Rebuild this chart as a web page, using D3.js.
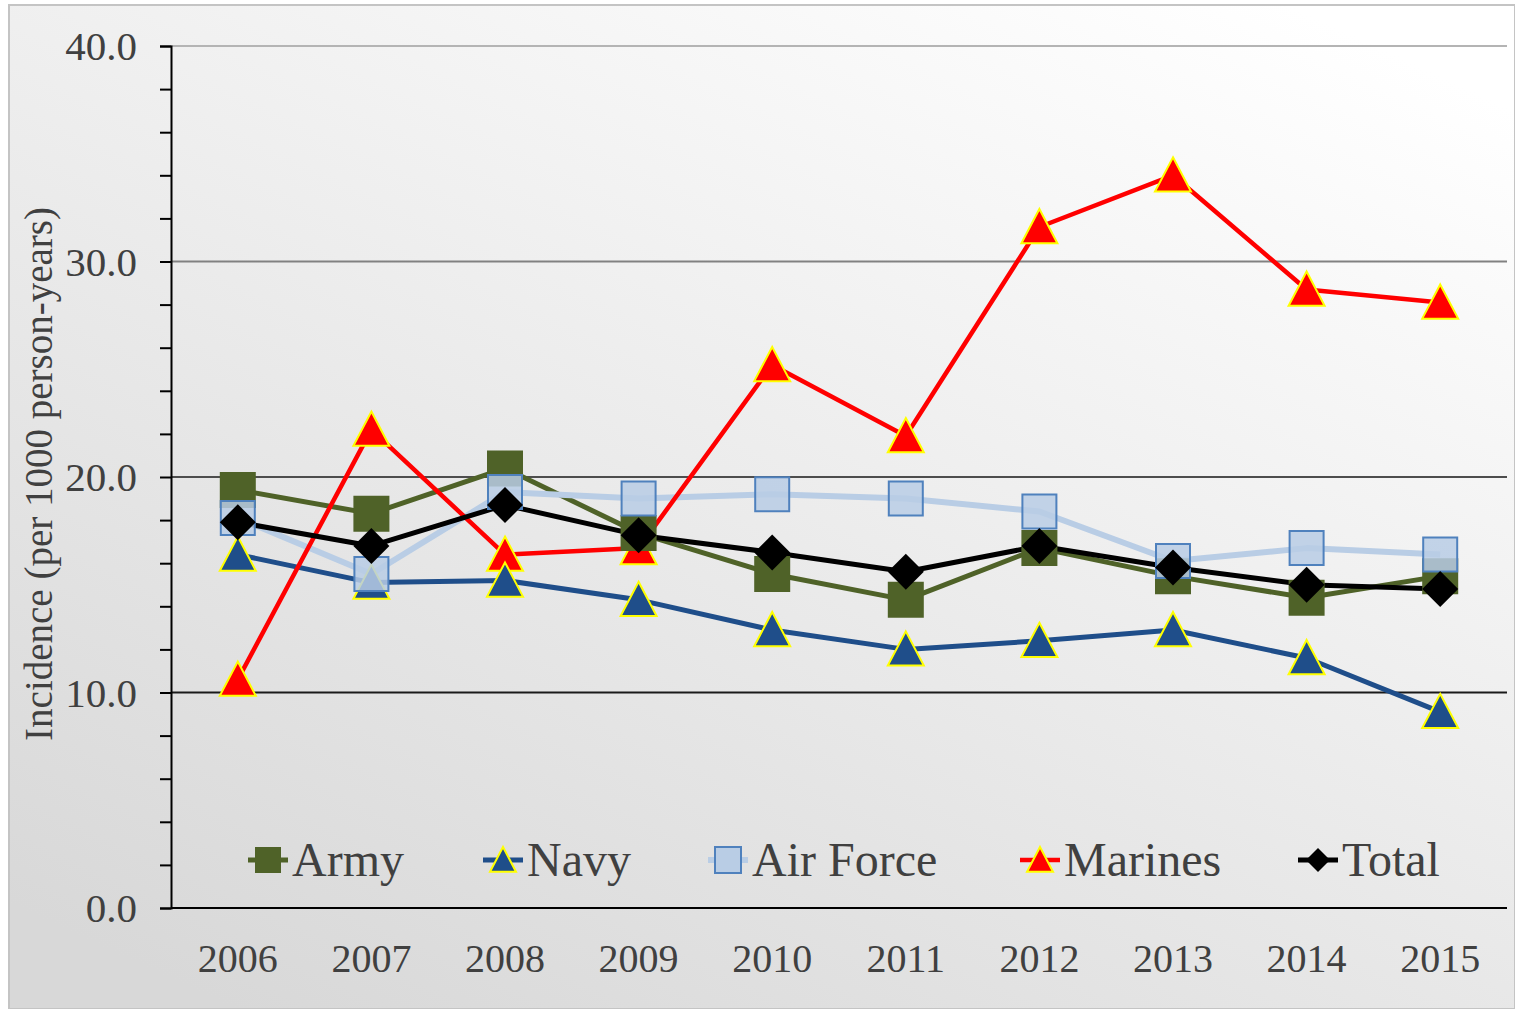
<!DOCTYPE html>
<html lang="en">
<head>
<meta charset="utf-8">
<title>Incidence by service</title>
<script src="https://cdnjs.cloudflare.com/ajax/libs/d3/7.8.5/d3.min.js"></script>
<style>
  body { margin: 0; background: #fff; }
  text { font-family: "Liberation Serif", "Times New Roman", serif; fill: #404040; }
</style>
</head>
<body>
<script>
// data
let years = ["2006", "2007", "2008", "2009", "2010", "2011", "2012", "2013", "2014", "2015"];
let army     = [19.4, 18.3, 20.4, 17.4, 15.5, 14.3, 16.7, 15.4, 14.4, 15.4];
let navy     = [16.4, 15.1, 15.2, 14.3, 12.9, 12.0, 12.4, 12.9, 11.6, 9.1];
let airForce = [18.1, 15.5, 19.3, 19.0, 19.2, 19.0, 18.4, 16.1, 16.7, 16.4];
let marines  = [10.6, 22.2, 16.4, 16.7, 25.2, 21.9, 31.6, 34.0, 28.7, 28.1];
let total    = [17.9, 16.8, 18.7, 17.3, 16.5, 15.6, 16.8, 15.8, 15.0, 14.8];
let yTicks = [0, 10, 20, 30, 40];

let w = 1515;
let h = 1009;
let plotLeft = 171, plotRight = 1507, plotTop = 46, plotBottom = 908;

let series = [
  {name: "Army", values: army, line: "#4f6228", width: 5, shape: "square", fill: "#4f6228", stroke: "none", size: 36, opacity: 1},
  {name: "Navy", values: navy, line: "#1f4e8a", width: 5, shape: "triangle", fill: "#1f4e8a", stroke: "#ffff00", size: 36, opacity: 1},
  {name: "Air Force", values: airForce, line: "#b9cde5", width: 6, shape: "square", fill: "#b9cde5", stroke: "#4f81bd", size: 34, opacity: 0.85},
  {name: "Marines", values: marines, line: "#ff0000", width: 4.5, shape: "triangle", fill: "#ff0000", stroke: "#ffff00", size: 36, opacity: 1},
  {name: "Total", values: total, line: "#000000", width: 5, shape: "diamond", fill: "#000000", stroke: "none", size: 36, opacity: 1}
];

let svg = d3.select("body").append("svg")
  .attr("width", w)
  .attr("height", h);

let defs = svg.append("defs");
let grad = defs.append("linearGradient")
  .attr("id", "bg")
  .attr("x1", "0.85").attr("y1", "0")
  .attr("x2", "0.15").attr("y2", "1");
grad.append("stop").attr("offset", "0").attr("stop-color", "#ffffff");
grad.append("stop").attr("offset", "1").attr("stop-color", "#d8d8d8");

svg.append("rect")
  .attr("x", 9).attr("y", 5)
  .attr("width", w - 9).attr("height", h - 5)
  .attr("fill", "url(#bg)")
  .attr("stroke", "#c4c4c4")
  .attr("stroke-width", 2);

let xScale = d3.scalePoint()
  .domain(years)
  .range([plotLeft, plotRight])
  .padding(0.5);

let yScale = d3.scaleLinear()
  .domain([0, 40])
  .range([plotBottom, plotTop]);

// gridlines (they darken towards the bottom in the reference)
let gridColor = d3.scaleLinear().domain([10, 40]).range(["#1a1a1a", "#b4b4b4"]);
svg.append("g")
  .selectAll("line")
  .data(yTicks.filter((d) => d > 0))
  .enter()
  .append("line")
  .attr("x1", plotLeft).attr("x2", plotRight)
  .attr("y1", (d) => yScale(d)).attr("y2", (d) => yScale(d))
  .attr("stroke", (d) => gridColor(d))
  .attr("stroke-width", 2);

// y axis with minor ticks every 2
let yAxis = d3.axisLeft(yScale)
  .tickValues(d3.range(0, 41, 2))
  .tickSize(11)
  .tickFormat((d) => yTicks.includes(d) ? d.toFixed(1) : "");

let gy = svg.append("g")
  .attr("transform", "translate(" + plotLeft + ",0)")
  .call(yAxis);
gy.select(".domain").attr("stroke", "#000").attr("stroke-width", 2);
gy.selectAll(".tick line").attr("stroke", "#000").attr("stroke-width", 2);
gy.selectAll(".tick text")
  .attr("x", -34)
  .attr("dy", "0.34em")
  .style("font-size", "41px")
  .style("font-family", "Liberation Serif")
  .attr("fill", "#404040");

// x axis
svg.append("line")
  .attr("x1", plotLeft).attr("x2", plotRight)
  .attr("y1", plotBottom).attr("y2", plotBottom)
  .attr("stroke", "#000").attr("stroke-width", 2);

svg.append("g")
  .selectAll("text")
  .data(years)
  .enter()
  .append("text")
  .attr("x", (d) => xScale(d))
  .attr("y", 972)
  .attr("text-anchor", "middle")
  .style("font-size", "40px")
  .text((d) => d);

svg.append("text")
  .attr("transform", "translate(52,474) rotate(-90)")
  .attr("text-anchor", "middle")
  .style("font-size", "39px")
  .text("Incidence (per 1000 person-years)");

function markerPath(shape, size) {
  let s = size / 2;
  if (shape === "square") return "M" + (-s) + "," + (-s) + "h" + size + "v" + size + "h" + (-size) + "Z";
  if (shape === "triangle") return "M0," + (-s) + "L" + s + "," + (s * 0.9) + "L" + (-s) + "," + (s * 0.9) + "Z";
  return "M0," + (-s) + "L" + s + ",0L0," + s + "L" + (-s) + ",0Z";
}

let line = d3.line()
  .x((d, i) => xScale(years[i]))
  .y((d) => yScale(d));

// lines first
svg.append("g")
  .selectAll("path")
  .data(series)
  .enter()
  .append("path")
  .attr("d", (d) => line(d.values))
  .attr("fill", "none")
  .attr("stroke", (d) => d.line)
  .attr("stroke-width", (d) => d.width)
  .attr("stroke-linejoin", "round");

// markers
let markerOrder = [series[3], series[1], series[0], series[2], series[4]];
markerOrder.forEach(function(s) {
  svg.append("g")
    .selectAll("path")
    .data(s.values)
    .enter()
    .append("path")
    .attr("transform", (d, i) => "translate(" + xScale(years[i]) + "," + yScale(d) + ")")
    .attr("d", markerPath(s.shape, s.size))
    .attr("fill", s.fill)
    .attr("fill-opacity", s.opacity)
    .attr("stroke", s.stroke)
    .attr("stroke-width", 2);
});

// legend
let legendX = [268, 503, 728, 1040, 1318];
let legend = svg.append("g")
  .selectAll("g")
  .data(series)
  .enter()
  .append("g")
  .attr("transform", (d, i) => "translate(" + legendX[i] + ",860)");

legend.append("line")
  .attr("x1", -20).attr("x2", 20)
  .attr("stroke", (d) => d.line)
  .attr("stroke-width", (d) => d.width);

legend.append("path")
  .attr("d", (d) => markerPath(d.shape, d.shape === "diamond" ? 24 : 26))
  .attr("fill", (d) => d.fill)
  .attr("stroke", (d) => d.stroke)
  .attr("stroke-width", 2);

legend.append("text")
  .attr("x", 24)
  .attr("dy", "0.34em")
  .style("font-size", "48px")
  .text((d) => d.name);
</script>
</body>
</html>
